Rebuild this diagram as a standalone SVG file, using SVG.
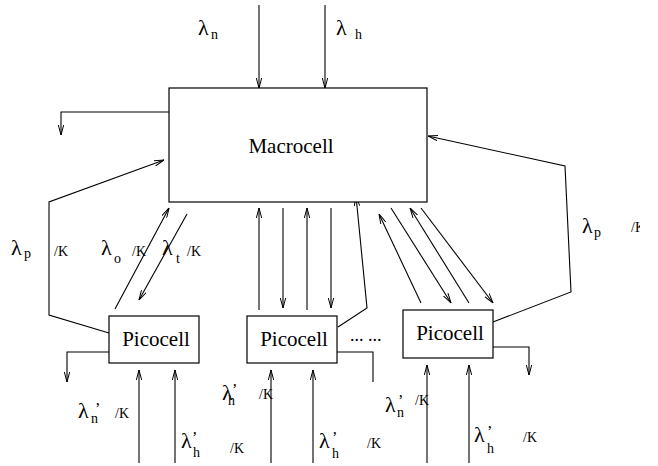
<svg xmlns="http://www.w3.org/2000/svg" width="658" height="466" viewBox="0 0 658 466">
<style>
text{font-family:"Liberation Serif","Times New Roman",serif;fill:#000}
.box{fill:#fff;stroke:#000;stroke-width:1.2}
.lbl{font-size:21px}
.l{font-size:22px}
.s{font-size:14px}
.k{font-size:14px}
.q{font-size:16px}
#connectors path{fill:none;stroke:#000;stroke-width:1.1}
.ar{marker-end:url(#a)}
</style>
<defs>
<marker id="a" viewBox="0 0 10 6" refX="10" refY="3" markerWidth="10" markerHeight="6" markerUnits="userSpaceOnUse" orient="auto">
<path d="M0,0.3 L10,3 L0,5.7" fill="none" stroke="#000" stroke-width="1"/>
</marker>
<clipPath id="clipR"><rect x="0" y="0" width="640" height="466"/></clipPath>
</defs>
<rect width="658" height="466" fill="#fff"/>
<g id="connectors">
<path class="ar" d="M259,5 V88"/>
<path class="ar" d="M325,5 V88"/>
<path class="ar" d="M169,112 H61 V135"/>
<path class="ar" d="M109,333 L49,315 L49,202 L164,160"/>
<path class="ar" d="M115,309 L169,208"/>
<path class="ar" d="M187,214 L139,300"/>
<path class="ar" d="M259,310 V208"/>
<path class="ar" d="M283,208 V308"/>
<path class="ar" d="M307,310 V208"/>
<path class="ar" d="M331,208 V308"/>
<path class="ar" d="M338,327 L367,308 L356,196"/>
<path class="ar" d="M421,303 L379,214"/>
<path class="ar" d="M391,208 L451,303"/>
<path class="ar" d="M469,303 L410,208"/>
<path class="ar" d="M421,208 L493,303"/>
<path class="ar" d="M493,322 L571,292 L565,166 L428,136"/>
<path class="ar" d="M109,352 H67 V382"/>
<path class="ar" d="M139,463 V370"/>
<path class="ar" d="M175,463 V370"/>
<path d="M337,352 H373 V382"/>
<path class="ar" d="M271,463 V370"/>
<path class="ar" d="M313,463 V370"/>
<path class="ar" d="M493,347 H529 V375"/>
<path class="ar" d="M427,463 V365"/>
<path class="ar" d="M469,463 V365"/>
</g>
<g id="macrocell">
<rect class="box" x="169" y="88" width="258" height="114"/>
<text class="lbl" x="291" y="153" text-anchor="middle">Macrocell</text>
</g>
<g id="picocell1">
<rect class="box" x="109" y="316" width="90" height="47"/>
<text class="lbl" x="156" y="346" text-anchor="middle">Picocell</text>
</g>
<g id="picocell2">
<rect class="box" x="247" y="316" width="90" height="47"/>
<text class="lbl" x="294" y="346" text-anchor="middle">Picocell</text>
</g>
<g id="picocell3">
<rect class="box" x="403" y="310" width="90" height="48"/>
<text class="lbl" x="450" y="340" text-anchor="middle">Picocell</text>
</g>
<g id="labels">
<text class="l" x="198" y="35">λ<tspan class="s" x="211" y="39">n</tspan></text>
<text class="l" x="336" y="35">λ<tspan class="s" x="355" y="39">h</tspan></text>
<text class="l" x="11" y="255">λ<tspan class="s" x="24" y="258">p</tspan></text>
<text class="k" x="54" y="256">/K</text>
<text class="l" x="101" y="255">λ<tspan class="s" x="114" y="263">o</tspan></text>
<text class="k" x="132" y="256">/K</text>
<text class="l" x="162" y="255">λ<tspan class="s" x="176" y="263">t</tspan></text>
<text class="k" x="187" y="256">/K</text>
<text class="l" x="582" y="233">λ<tspan class="s" x="594" y="237">p</tspan></text>
<text class="k" x="631" y="232" clip-path="url(#clipR)">/K</text>
<text class="l" x="78" y="418">λ<tspan class="q" x="95" y="414">’</tspan><tspan class="s" x="91" y="423">n</tspan></text>
<text class="k" x="115" y="418">/K</text>
<text class="l" x="181" y="448">λ<tspan class="q" x="192" y="443">’</tspan><tspan class="s" x="193" y="457">h</tspan></text>
<text class="k" x="230" y="453">/K</text>
<text class="l" x="222" y="400">λ<tspan class="q" x="232" y="395">’</tspan><tspan class="s" x="228" y="405">h</tspan></text>
<text class="k" x="259" y="399">/K</text>
<text class="l" x="319" y="448">λ<tspan class="q" x="332" y="443">’</tspan><tspan class="s" x="332" y="458">h</tspan></text>
<text class="k" x="367" y="448">/K</text>
<text class="l" x="385" y="412">λ<tspan class="q" x="398" y="406">’</tspan><tspan class="s" x="397" y="417">n</tspan></text>
<text class="k" x="415" y="405">/K</text>
<text class="l" x="474" y="442">λ<tspan class="q" x="487" y="437">’</tspan><tspan class="s" x="487" y="453">h</tspan></text>
<text class="k" x="523" y="442">/K</text>
<text class="l" x="350" y="341" style="font-size:18px">... ...</text>
</g>
</svg>
